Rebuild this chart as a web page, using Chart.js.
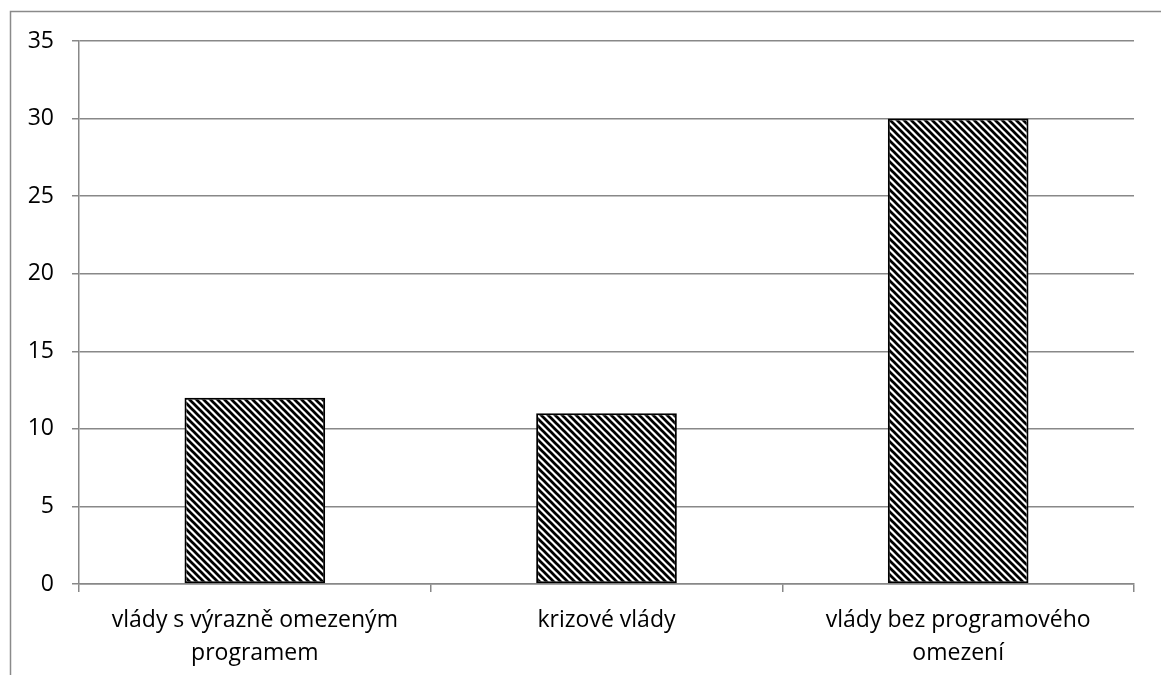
<!DOCTYPE html>
<html>
<head>
<meta charset="utf-8">
<script src="https://cdn.jsdelivr.net/npm/chart.js@4/dist/chart.umd.min.js"></script>
<style>
  html, body { margin: 0; padding: 0; background: #fff; overflow: hidden; }
  #wrap { position: relative; width: 1161px; height: 675px; }
</style>
</head>
<body>
<div id="wrap"><canvas id="c" width="1161" height="675"></canvas></div>
<script>
// Categories (wrapped onto two lines like the axis shows them)
const categories = [
  ['vlády s výrazně omezeným', 'programem'],
  'krizové vlády',
  ['vlády bez programového', 'omezení']
];
const values = [12, 11, 30];
const yTicks = { min: 0, max: 35, step: 5 };

const FONT = '"Open Sans", "DejaVu Sans", sans-serif';
const GRID = '#888888';

// Diagonal black/white hatch used as the bar fill
function makeHatch() {
  const s = 7;
  const c = document.createElement('canvas');
  c.width = s; c.height = s;
  const g = c.getContext('2d');
  g.fillStyle = '#ffffff';
  g.fillRect(0, 0, s, s);
  g.strokeStyle = '#000000';
  g.lineWidth = 2.7;
  for (let k = -2; k <= 2; k++) {
    g.beginPath();
    g.moveTo(k * s - 1, -1);
    g.lineTo(k * s + s + 1, s + 1);
    g.stroke();
  }
  return g.createPattern(c, 'repeat');
}

// Frame drawn around the whole chart object
const framePlugin = {
  id: 'frame',
  beforeDraw(chart) {
    const ctx = chart.ctx;
    ctx.save();
    ctx.strokeStyle = '#8a8a8a';
    ctx.lineWidth = 1.5;
    ctx.beginPath();
    ctx.moveTo(10.5, 700);
    ctx.lineTo(10.5, 11.5);
    ctx.lineTo(1200, 11.5);
    ctx.stroke();
    ctx.restore();
  }
};

new Chart(document.getElementById('c'), {
  type: 'bar',
  data: {
    labels: categories,
    datasets: [{
      data: values,
      backgroundColor: makeHatch(),
      borderColor: '#000000',
      borderWidth: 2,
      borderSkipped: false,
      categoryPercentage: 1.0,
      barPercentage: 0.4
    }]
  },
  options: {
    responsive: false,
    animation: false,
    devicePixelRatio: 1,
    layout: { padding: { left: 0, top: 41, right: 27, bottom: 0 } },
    plugins: {
      legend: { display: false },
      tooltip: { enabled: false }
    },
    scales: {
      x: {
        grid: {
          offset: true,
          drawOnChartArea: false,
          drawTicks: true,
          tickLength: 8,
          color: GRID,
          lineWidth: 1.5
        },
        border: { color: GRID, width: 1.5 },
        ticks: {
          color: '#000000',
          font: { family: FONT, size: 23, lineHeight: '33px' },
          padding: 12,
          maxRotation: 0,
          autoSkip: false
        },
        afterFit(scale) { scale.height = 91; }
      },
      y: {
        min: yTicks.min,
        max: yTicks.max,
        grid: {
          color: GRID,
          lineWidth: 1.5,
          drawTicks: true,
          tickLength: 7
        },
        border: { color: GRID, width: 1.5 },
        ticks: {
          stepSize: yTicks.step,
          color: '#000000',
          font: { family: FONT, size: 23 },
          padding: 18
        },
        afterFit(scale) { scale.width = 79; }
      }
    }
  },
  plugins: [framePlugin]
});
</script>
</body>
</html>
